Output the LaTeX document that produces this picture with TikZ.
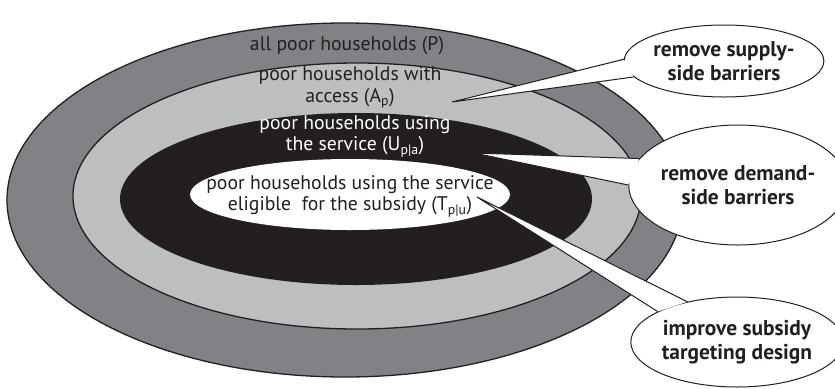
\documentclass[tikz,border=0pt]{standalone}
\usepackage{fontspec}
\setmainfont{PT Sans}
\usetikzlibrary{shapes.geometric}
\definecolor{ringdark}{RGB}{128,130,133}
\definecolor{ringlight}{RGB}{188,190,192}
\definecolor{ringblack}{RGB}{35,31,32}
\definecolor{inktext}{RGB}{35,31,32}
\begin{document}
\begin{tikzpicture}[x=1bp,y=-1bp,
  ring/.style={draw=ringblack, line width=1.3bp},
  bandtext/.style={font=\fontsize{19.8}{21.8}\selectfont, align=center, inner sep=0pt, text=inktext},
  callout/.style={ellipse, draw=ringblack, fill=white, line width=1bp, inner sep=0pt,
    font=\bfseries\fontsize{21.5}{23.5}\selectfont, align=center, text=inktext},
  tail/.style={draw=ringblack, line width=1bp, line join=miter},
]
\useasboundingbox (0,0) rectangle (835,388);
% rings
\draw[ring, fill=ringdark] (345,200) ellipse [x radius=338bp, y radius=177bp];
\draw[ring, fill=ringlight] (357,196) ellipse [x radius=284bp, y radius=133bp];
\fill[ringblack] (356,199) ellipse [x radius=236bp, y radius=86bp];
\fill[white] (350,194.5) ellipse [x radius=160bp, y radius=35.5bp];
% ring texts
\node[bandtext] (tp) at (347,46) {all poor households (P)};
\node[bandtext] (ta) at (350,87.5) {poor households with\\access (A\textsubscript{p})};
\node[bandtext, text=white] (tu) at (355,136) {poor households using\\the service (U\textsubscript{p|a})};
\node[bandtext] (tt) at (350,196) {poor households using the service\\eligible~ for the subsidy (T\textsubscript{p|u})};
% callouts
\node[callout, minimum width=184bp, minimum height=72bp] (c1) at (724,61) {remove supply-\\side barriers};
\node[callout, minimum width=184bp, minimum height=120bp] (c2) at (738,185) {remove demand-\\side barriers};
\node[callout, minimum width=188bp, minimum height=90bp] (c3) at (737,342) {improve subsidy\\targeting design};
% tail tips
\coordinate (k1) at (452,102);
\coordinate (k2) at (474,153);
\coordinate (k3) at (477,197);
% tails
\fill[white] (k1) -- (c1.179) -- (c1.190) -- cycle;
\draw[tail] (c1.179) -- (k1) -- (c1.190);
\fill[white] (k2) -- (c2.165) -- (c2.180) -- cycle;
\draw[tail] (c2.165) -- (k2) -- (c2.180);
\fill[white] (k3) -- (c3.141) -- (c3.159) -- cycle;
\draw[tail] (c3.141) -- (k3) -- (c3.159);
\end{tikzpicture}
\end{document}
